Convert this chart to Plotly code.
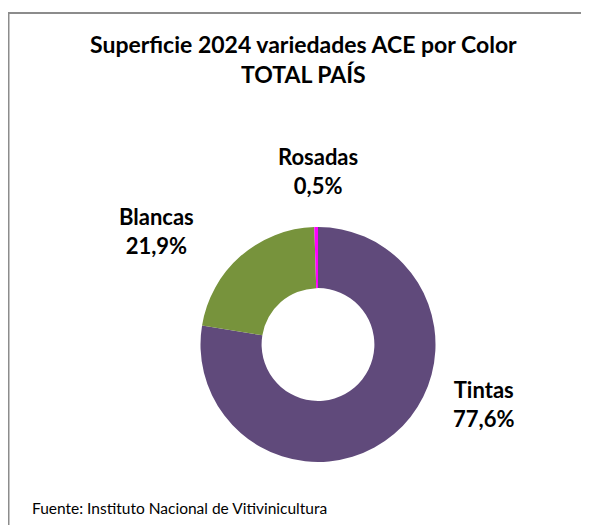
import plotly.graph_objects as go

categories = ["Tintas", "Blancas", "Rosadas"]
shares = [77.6, 21.9, 0.5]
colors = ["#604A7B", "#77933C", "#FF00FF"]

# page has an 8px body margin; figure sized to fill the remaining window
OFF = 8
W, H = 589 - OFF, 525 - OFF

def px(x):
    return (x - OFF) / W

def py(y):
    return 1 - (y - OFF) / H

fig = go.Figure(go.Pie(
    labels=categories,
    values=shares,
    sort=False,
    direction="clockwise",
    rotation=0,
    hole=0.48,
    marker=dict(colors=colors, line=dict(width=0)),
    textinfo="none",
    hoverinfo="label+percent",
    showlegend=False,
    domain=dict(x=[px(200.5), px(435.5)], y=[py(462), py(227)]),
))

def fmt(v):
    return f"{v:.1f}".replace(".", ",") + "%"

label_pos = {"Tintas": (483, 404), "Blancas": (156, 231), "Rosadas": (318, 171)}
annotations = []
for cat, val in zip(categories, shares):
    x, y = label_pos[cat]
    annotations.append(dict(
        x=px(x), y=py(y), xref="paper", yref="paper",
        text=f"<b>{cat}<br>{fmt(val)}</b>", showarrow=False,
        font=dict(family="Lato, Carlito, Arial", size=22, color="#000000"),
        align="center", xanchor="center", yanchor="middle",
    ))

annotations.append(dict(
    x=px(303), y=py(59), xref="paper", yref="paper",
    text="<b>Superficie 2024 variedades ACE por Color<br>TOTAL PAÍS</b>",
    showarrow=False, align="center", xanchor="center", yanchor="middle",
    font=dict(family="Lato, Carlito, Arial", size=23, color="#000000"),
))
annotations.append(dict(
    x=px(30), y=py(508), xref="paper", yref="paper",
    text="Fuente: Instituto Nacional de Vitivinicultura",
    showarrow=False, xanchor="left", yanchor="middle",
    font=dict(family="Lato, Arial", size=15.5, color="#000000"),
))

fig.update_layout(
    width=W, height=H,
    margin=dict(l=0, r=0, t=0, b=0),
    paper_bgcolor="#FFFFFF",
    plot_bgcolor="#FFFFFF",
    annotations=annotations,
    shapes=[dict(
        type="path", xref="paper", yref="paper",
        path=f"M {px(8.5)},{py(540)} L {px(8.5)},{py(13)} L {px(620)},{py(13)}",
        line=dict(color="#8C8C8C", width=2),
    )],
)

fig.write_html("out.html")
